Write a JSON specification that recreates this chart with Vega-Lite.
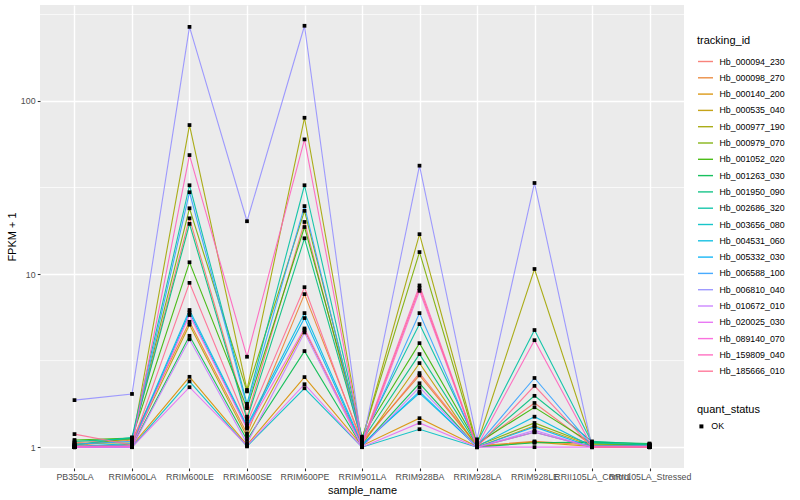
{
  "$schema": "https://vega.github.io/schema/vega-lite/v6.json",
  "width": 644,
  "height": 463,
  "autosize": {"type": "none"},
  "padding": {"left": 40, "top": 5, "right": 116, "bottom": 32},
  "background": "#FFFFFF",
  "datasets": {
    "minor": [{"m": 3.1623}, {"m": 31.623}, {"m": 316.23}],
    "expr": [
{"id":"Hb_000094_230","sample":"PB350LA","fpkm":1.06,"status":"OK"},
{"id":"Hb_000094_230","sample":"RRIM600LA","fpkm":1.11,"status":"OK"},
{"id":"Hb_000094_230","sample":"RRIM600LE","fpkm":21,"status":"OK"},
{"id":"Hb_000094_230","sample":"RRIM600SE","fpkm":1.5,"status":"OK"},
{"id":"Hb_000094_230","sample":"RRIM600PE","fpkm":20,"status":"OK"},
{"id":"Hb_000094_230","sample":"RRIM901LA","fpkm":1.05,"status":"OK"},
{"id":"Hb_000094_230","sample":"RRIM928BA","fpkm":2.68,"status":"OK"},
{"id":"Hb_000094_230","sample":"RRIM928LA","fpkm":1.03,"status":"OK"},
{"id":"Hb_000094_230","sample":"RRIM928LE","fpkm":1.8,"status":"OK"},
{"id":"Hb_000094_230","sample":"RRII105LA_Control","fpkm":1.02,"status":"OK"},
{"id":"Hb_000094_230","sample":"RRII105LA_Stressed","fpkm":1.01,"status":"OK"},
{"id":"Hb_000098_270","sample":"PB350LA","fpkm":1.02,"status":"OK"},
{"id":"Hb_000098_270","sample":"RRIM600LA","fpkm":1.1,"status":"OK"},
{"id":"Hb_000098_270","sample":"RRIM600LE","fpkm":5.3,"status":"OK"},
{"id":"Hb_000098_270","sample":"RRIM600SE","fpkm":1.2,"status":"OK"},
{"id":"Hb_000098_270","sample":"RRIM600PE","fpkm":7.66,"status":"OK"},
{"id":"Hb_000098_270","sample":"RRIM901LA","fpkm":1.08,"status":"OK"},
{"id":"Hb_000098_270","sample":"RRIM928BA","fpkm":2.6,"status":"OK"},
{"id":"Hb_000098_270","sample":"RRIM928LA","fpkm":1.02,"status":"OK"},
{"id":"Hb_000098_270","sample":"RRIM928LE","fpkm":1.08,"status":"OK"},
{"id":"Hb_000098_270","sample":"RRII105LA_Control","fpkm":1.03,"status":"OK"},
{"id":"Hb_000098_270","sample":"RRII105LA_Stressed","fpkm":1.02,"status":"OK"},
{"id":"Hb_000140_200","sample":"PB350LA","fpkm":1.01,"status":"OK"},
{"id":"Hb_000140_200","sample":"RRIM600LA","fpkm":1.02,"status":"OK"},
{"id":"Hb_000140_200","sample":"RRIM600LE","fpkm":2.55,"status":"OK"},
{"id":"Hb_000140_200","sample":"RRIM600SE","fpkm":1.03,"status":"OK"},
{"id":"Hb_000140_200","sample":"RRIM600PE","fpkm":2.54,"status":"OK"},
{"id":"Hb_000140_200","sample":"RRIM901LA","fpkm":1.02,"status":"OK"},
{"id":"Hb_000140_200","sample":"RRIM928BA","fpkm":1.47,"status":"OK"},
{"id":"Hb_000140_200","sample":"RRIM928LA","fpkm":1.01,"status":"OK"},
{"id":"Hb_000140_200","sample":"RRIM928LE","fpkm":1.07,"status":"OK"},
{"id":"Hb_000140_200","sample":"RRII105LA_Control","fpkm":1.01,"status":"OK"},
{"id":"Hb_000140_200","sample":"RRII105LA_Stressed","fpkm":1.0,"status":"OK"},
{"id":"Hb_000535_040","sample":"PB350LA","fpkm":1.0,"status":"OK"},
{"id":"Hb_000535_040","sample":"RRIM600LA","fpkm":1.04,"status":"OK"},
{"id":"Hb_000535_040","sample":"RRIM600LE","fpkm":5.1,"status":"OK"},
{"id":"Hb_000535_040","sample":"RRIM600SE","fpkm":1.15,"status":"OK"},
{"id":"Hb_000535_040","sample":"RRIM600PE","fpkm":4.75,"status":"OK"},
{"id":"Hb_000535_040","sample":"RRIM901LA","fpkm":1.03,"status":"OK"},
{"id":"Hb_000535_040","sample":"RRIM928BA","fpkm":3.06,"status":"OK"},
{"id":"Hb_000535_040","sample":"RRIM928LA","fpkm":1.0,"status":"OK"},
{"id":"Hb_000535_040","sample":"RRIM928LE","fpkm":1.33,"status":"OK"},
{"id":"Hb_000535_040","sample":"RRII105LA_Control","fpkm":1.02,"status":"OK"},
{"id":"Hb_000535_040","sample":"RRII105LA_Stressed","fpkm":1.03,"status":"OK"},
{"id":"Hb_000977_190","sample":"PB350LA","fpkm":1.05,"status":"OK"},
{"id":"Hb_000977_190","sample":"RRIM600LA","fpkm":1.06,"status":"OK"},
{"id":"Hb_000977_190","sample":"RRIM600LE","fpkm":72.6,"status":"OK"},
{"id":"Hb_000977_190","sample":"RRIM600SE","fpkm":2.14,"status":"OK"},
{"id":"Hb_000977_190","sample":"RRIM600PE","fpkm":80,"status":"OK"},
{"id":"Hb_000977_190","sample":"RRIM901LA","fpkm":1.1,"status":"OK"},
{"id":"Hb_000977_190","sample":"RRIM928BA","fpkm":17,"status":"OK"},
{"id":"Hb_000977_190","sample":"RRIM928LA","fpkm":1.04,"status":"OK"},
{"id":"Hb_000977_190","sample":"RRIM928LE","fpkm":10.7,"status":"OK"},
{"id":"Hb_000977_190","sample":"RRII105LA_Control","fpkm":1.04,"status":"OK"},
{"id":"Hb_000977_190","sample":"RRII105LA_Stressed","fpkm":1.04,"status":"OK"},
{"id":"Hb_000979_070","sample":"PB350LA","fpkm":1.03,"status":"OK"},
{"id":"Hb_000979_070","sample":"RRIM600LA","fpkm":1.12,"status":"OK"},
{"id":"Hb_000979_070","sample":"RRIM600LE","fpkm":24,"status":"OK"},
{"id":"Hb_000979_070","sample":"RRIM600SE","fpkm":2.1,"status":"OK"},
{"id":"Hb_000979_070","sample":"RRIM600PE","fpkm":23.2,"status":"OK"},
{"id":"Hb_000979_070","sample":"RRIM901LA","fpkm":1.12,"status":"OK"},
{"id":"Hb_000979_070","sample":"RRIM928BA","fpkm":13.4,"status":"OK"},
{"id":"Hb_000979_070","sample":"RRIM928LA","fpkm":1.02,"status":"OK"},
{"id":"Hb_000979_070","sample":"RRIM928LE","fpkm":1.38,"status":"OK"},
{"id":"Hb_000979_070","sample":"RRII105LA_Control","fpkm":1.03,"status":"OK"},
{"id":"Hb_000979_070","sample":"RRII105LA_Stressed","fpkm":1.02,"status":"OK"},
{"id":"Hb_001052_020","sample":"PB350LA","fpkm":1.1,"status":"OK"},
{"id":"Hb_001052_020","sample":"RRIM600LA","fpkm":1.13,"status":"OK"},
{"id":"Hb_001052_020","sample":"RRIM600LE","fpkm":11.7,"status":"OK"},
{"id":"Hb_001052_020","sample":"RRIM600SE","fpkm":1.68,"status":"OK"},
{"id":"Hb_001052_020","sample":"RRIM600PE","fpkm":18.7,"status":"OK"},
{"id":"Hb_001052_020","sample":"RRIM901LA","fpkm":1.15,"status":"OK"},
{"id":"Hb_001052_020","sample":"RRIM928BA","fpkm":3.99,"status":"OK"},
{"id":"Hb_001052_020","sample":"RRIM928LA","fpkm":1.05,"status":"OK"},
{"id":"Hb_001052_020","sample":"RRIM928LE","fpkm":1.7,"status":"OK"},
{"id":"Hb_001052_020","sample":"RRII105LA_Control","fpkm":1.05,"status":"OK"},
{"id":"Hb_001052_020","sample":"RRII105LA_Stressed","fpkm":1.03,"status":"OK"},
{"id":"Hb_001263_030","sample":"PB350LA","fpkm":1.0,"status":"OK"},
{"id":"Hb_001263_030","sample":"RRIM600LA","fpkm":1.01,"status":"OK"},
{"id":"Hb_001263_030","sample":"RRIM600LE","fpkm":4.4,"status":"OK"},
{"id":"Hb_001263_030","sample":"RRIM600SE","fpkm":1.1,"status":"OK"},
{"id":"Hb_001263_030","sample":"RRIM600PE","fpkm":3.59,"status":"OK"},
{"id":"Hb_001263_030","sample":"RRIM901LA","fpkm":1.01,"status":"OK"},
{"id":"Hb_001263_030","sample":"RRIM928BA","fpkm":2.34,"status":"OK"},
{"id":"Hb_001263_030","sample":"RRIM928LA","fpkm":1.0,"status":"OK"},
{"id":"Hb_001263_030","sample":"RRIM928LE","fpkm":1.06,"status":"OK"},
{"id":"Hb_001263_030","sample":"RRII105LA_Control","fpkm":1.07,"status":"OK"},
{"id":"Hb_001263_030","sample":"RRII105LA_Stressed","fpkm":1.05,"status":"OK"},
{"id":"Hb_001950_090","sample":"PB350LA","fpkm":1.08,"status":"OK"},
{"id":"Hb_001950_090","sample":"RRIM600LA","fpkm":1.12,"status":"OK"},
{"id":"Hb_001950_090","sample":"RRIM600LE","fpkm":19.5,"status":"OK"},
{"id":"Hb_001950_090","sample":"RRIM600SE","fpkm":1.45,"status":"OK"},
{"id":"Hb_001950_090","sample":"RRIM600PE","fpkm":16.1,"status":"OK"},
{"id":"Hb_001950_090","sample":"RRIM901LA","fpkm":1.09,"status":"OK"},
{"id":"Hb_001950_090","sample":"RRIM928BA","fpkm":3.45,"status":"OK"},
{"id":"Hb_001950_090","sample":"RRIM928LA","fpkm":1.03,"status":"OK"},
{"id":"Hb_001950_090","sample":"RRIM928LE","fpkm":1.98,"status":"OK"},
{"id":"Hb_001950_090","sample":"RRII105LA_Control","fpkm":1.08,"status":"OK"},
{"id":"Hb_001950_090","sample":"RRII105LA_Stressed","fpkm":1.04,"status":"OK"},
{"id":"Hb_002686_320","sample":"PB350LA","fpkm":1.03,"status":"OK"},
{"id":"Hb_002686_320","sample":"RRIM600LA","fpkm":1.14,"status":"OK"},
{"id":"Hb_002686_320","sample":"RRIM600LE","fpkm":32.6,"status":"OK"},
{"id":"Hb_002686_320","sample":"RRIM600SE","fpkm":1.78,"status":"OK"},
{"id":"Hb_002686_320","sample":"RRIM600PE","fpkm":32.6,"status":"OK"},
{"id":"Hb_002686_320","sample":"RRIM901LA","fpkm":1.13,"status":"OK"},
{"id":"Hb_002686_320","sample":"RRIM928BA","fpkm":5.14,"status":"OK"},
{"id":"Hb_002686_320","sample":"RRIM928LA","fpkm":1.06,"status":"OK"},
{"id":"Hb_002686_320","sample":"RRIM928LE","fpkm":4.75,"status":"OK"},
{"id":"Hb_002686_320","sample":"RRII105LA_Control","fpkm":1.06,"status":"OK"},
{"id":"Hb_002686_320","sample":"RRII105LA_Stressed","fpkm":1.03,"status":"OK"},
{"id":"Hb_003656_080","sample":"PB350LA","fpkm":1.0,"status":"OK"},
{"id":"Hb_003656_080","sample":"RRIM600LA","fpkm":1.0,"status":"OK"},
{"id":"Hb_003656_080","sample":"RRIM600LE","fpkm":2.4,"status":"OK"},
{"id":"Hb_003656_080","sample":"RRIM600SE","fpkm":1.01,"status":"OK"},
{"id":"Hb_003656_080","sample":"RRIM600PE","fpkm":2.19,"status":"OK"},
{"id":"Hb_003656_080","sample":"RRIM901LA","fpkm":1.0,"status":"OK"},
{"id":"Hb_003656_080","sample":"RRIM928BA","fpkm":1.27,"status":"OK"},
{"id":"Hb_003656_080","sample":"RRIM928LA","fpkm":1.0,"status":"OK"},
{"id":"Hb_003656_080","sample":"RRIM928LE","fpkm":1.22,"status":"OK"},
{"id":"Hb_003656_080","sample":"RRII105LA_Control","fpkm":1.0,"status":"OK"},
{"id":"Hb_003656_080","sample":"RRII105LA_Stressed","fpkm":1.0,"status":"OK"},
{"id":"Hb_004531_060","sample":"PB350LA","fpkm":1.01,"status":"OK"},
{"id":"Hb_004531_060","sample":"RRIM600LA","fpkm":1.05,"status":"OK"},
{"id":"Hb_004531_060","sample":"RRIM600LE","fpkm":6.2,"status":"OK"},
{"id":"Hb_004531_060","sample":"RRIM600SE","fpkm":1.33,"status":"OK"},
{"id":"Hb_004531_060","sample":"RRIM600PE","fpkm":5.95,"status":"OK"},
{"id":"Hb_004531_060","sample":"RRIM901LA","fpkm":1.04,"status":"OK"},
{"id":"Hb_004531_060","sample":"RRIM928BA","fpkm":2.05,"status":"OK"},
{"id":"Hb_004531_060","sample":"RRIM928LA","fpkm":1.01,"status":"OK"},
{"id":"Hb_004531_060","sample":"RRIM928LE","fpkm":1.5,"status":"OK"},
{"id":"Hb_004531_060","sample":"RRII105LA_Control","fpkm":1.01,"status":"OK"},
{"id":"Hb_004531_060","sample":"RRII105LA_Stressed","fpkm":1.01,"status":"OK"},
{"id":"Hb_005332_030","sample":"PB350LA","fpkm":1.0,"status":"OK"},
{"id":"Hb_005332_030","sample":"RRIM600LA","fpkm":1.03,"status":"OK"},
{"id":"Hb_005332_030","sample":"RRIM600LE","fpkm":6.0,"status":"OK"},
{"id":"Hb_005332_030","sample":"RRIM600SE","fpkm":1.3,"status":"OK"},
{"id":"Hb_005332_030","sample":"RRIM600PE","fpkm":5.57,"status":"OK"},
{"id":"Hb_005332_030","sample":"RRIM901LA","fpkm":1.02,"status":"OK"},
{"id":"Hb_005332_030","sample":"RRIM928BA","fpkm":2.1,"status":"OK"},
{"id":"Hb_005332_030","sample":"RRIM928LA","fpkm":1.0,"status":"OK"},
{"id":"Hb_005332_030","sample":"RRIM928LE","fpkm":1.31,"status":"OK"},
{"id":"Hb_005332_030","sample":"RRII105LA_Control","fpkm":1.0,"status":"OK"},
{"id":"Hb_005332_030","sample":"RRII105LA_Stressed","fpkm":1.0,"status":"OK"},
{"id":"Hb_006588_100","sample":"PB350LA","fpkm":1.04,"status":"OK"},
{"id":"Hb_006588_100","sample":"RRIM600LA","fpkm":1.08,"status":"OK"},
{"id":"Hb_006588_100","sample":"RRIM600LE","fpkm":29.7,"status":"OK"},
{"id":"Hb_006588_100","sample":"RRIM600SE","fpkm":1.72,"status":"OK"},
{"id":"Hb_006588_100","sample":"RRIM600PE","fpkm":24.7,"status":"OK"},
{"id":"Hb_006588_100","sample":"RRIM901LA","fpkm":1.07,"status":"OK"},
{"id":"Hb_006588_100","sample":"RRIM928BA","fpkm":5.95,"status":"OK"},
{"id":"Hb_006588_100","sample":"RRIM928LA","fpkm":1.02,"status":"OK"},
{"id":"Hb_006588_100","sample":"RRIM928LE","fpkm":2.51,"status":"OK"},
{"id":"Hb_006588_100","sample":"RRII105LA_Control","fpkm":1.02,"status":"OK"},
{"id":"Hb_006588_100","sample":"RRII105LA_Stressed","fpkm":1.02,"status":"OK"},
{"id":"Hb_006810_040","sample":"PB350LA","fpkm":1.87,"status":"OK"},
{"id":"Hb_006810_040","sample":"RRIM600LA","fpkm":2.03,"status":"OK"},
{"id":"Hb_006810_040","sample":"RRIM600LE","fpkm":268,"status":"OK"},
{"id":"Hb_006810_040","sample":"RRIM600SE","fpkm":20.2,"status":"OK"},
{"id":"Hb_006810_040","sample":"RRIM600PE","fpkm":272,"status":"OK"},
{"id":"Hb_006810_040","sample":"RRIM901LA","fpkm":1.02,"status":"OK"},
{"id":"Hb_006810_040","sample":"RRIM928BA","fpkm":42.3,"status":"OK"},
{"id":"Hb_006810_040","sample":"RRIM928LA","fpkm":1.11,"status":"OK"},
{"id":"Hb_006810_040","sample":"RRIM928LE","fpkm":33.6,"status":"OK"},
{"id":"Hb_006810_040","sample":"RRII105LA_Control","fpkm":1.0,"status":"OK"},
{"id":"Hb_006810_040","sample":"RRII105LA_Stressed","fpkm":1.0,"status":"OK"},
{"id":"Hb_010672_010","sample":"PB350LA","fpkm":1.0,"status":"OK"},
{"id":"Hb_010672_010","sample":"RRIM600LA","fpkm":1.0,"status":"OK"},
{"id":"Hb_010672_010","sample":"RRIM600LE","fpkm":4.2,"status":"OK"},
{"id":"Hb_010672_010","sample":"RRIM600SE","fpkm":1.05,"status":"OK"},
{"id":"Hb_010672_010","sample":"RRIM600PE","fpkm":4.6,"status":"OK"},
{"id":"Hb_010672_010","sample":"RRIM901LA","fpkm":1.0,"status":"OK"},
{"id":"Hb_010672_010","sample":"RRIM928BA","fpkm":2.22,"status":"OK"},
{"id":"Hb_010672_010","sample":"RRIM928LA","fpkm":1.0,"status":"OK"},
{"id":"Hb_010672_010","sample":"RRIM928LE","fpkm":1.25,"status":"OK"},
{"id":"Hb_010672_010","sample":"RRII105LA_Control","fpkm":1.0,"status":"OK"},
{"id":"Hb_010672_010","sample":"RRII105LA_Stressed","fpkm":1.0,"status":"OK"},
{"id":"Hb_020025_030","sample":"PB350LA","fpkm":1.0,"status":"OK"},
{"id":"Hb_020025_030","sample":"RRIM600LA","fpkm":1.0,"status":"OK"},
{"id":"Hb_020025_030","sample":"RRIM600LE","fpkm":2.22,"status":"OK"},
{"id":"Hb_020025_030","sample":"RRIM600SE","fpkm":1.02,"status":"OK"},
{"id":"Hb_020025_030","sample":"RRIM600PE","fpkm":2.31,"status":"OK"},
{"id":"Hb_020025_030","sample":"RRIM901LA","fpkm":1.0,"status":"OK"},
{"id":"Hb_020025_030","sample":"RRIM928BA","fpkm":1.38,"status":"OK"},
{"id":"Hb_020025_030","sample":"RRIM928LA","fpkm":1.0,"status":"OK"},
{"id":"Hb_020025_030","sample":"RRIM928LE","fpkm":1.0,"status":"OK"},
{"id":"Hb_020025_030","sample":"RRII105LA_Control","fpkm":1.0,"status":"OK"},
{"id":"Hb_020025_030","sample":"RRII105LA_Stressed","fpkm":1.0,"status":"OK"},
{"id":"Hb_089140_070","sample":"PB350LA","fpkm":1.0,"status":"OK"},
{"id":"Hb_089140_070","sample":"RRIM600LA","fpkm":1.01,"status":"OK"},
{"id":"Hb_089140_070","sample":"RRIM600LE","fpkm":5.8,"status":"OK"},
{"id":"Hb_089140_070","sample":"RRIM600SE","fpkm":1.28,"status":"OK"},
{"id":"Hb_089140_070","sample":"RRIM600PE","fpkm":4.85,"status":"OK"},
{"id":"Hb_089140_070","sample":"RRIM901LA","fpkm":1.01,"status":"OK"},
{"id":"Hb_089140_070","sample":"RRIM928BA","fpkm":8.0,"status":"OK"},
{"id":"Hb_089140_070","sample":"RRIM928LA","fpkm":1.0,"status":"OK"},
{"id":"Hb_089140_070","sample":"RRIM928LE","fpkm":1.22,"status":"OK"},
{"id":"Hb_089140_070","sample":"RRII105LA_Control","fpkm":1.0,"status":"OK"},
{"id":"Hb_089140_070","sample":"RRII105LA_Stressed","fpkm":1.0,"status":"OK"},
{"id":"Hb_159809_040","sample":"PB350LA","fpkm":1.01,"status":"OK"},
{"id":"Hb_159809_040","sample":"RRIM600LA","fpkm":1.02,"status":"OK"},
{"id":"Hb_159809_040","sample":"RRIM600LE","fpkm":48.7,"status":"OK"},
{"id":"Hb_159809_040","sample":"RRIM600SE","fpkm":3.33,"status":"OK"},
{"id":"Hb_159809_040","sample":"RRIM600PE","fpkm":60,"status":"OK"},
{"id":"Hb_159809_040","sample":"RRIM901LA","fpkm":1.06,"status":"OK"},
{"id":"Hb_159809_040","sample":"RRIM928BA","fpkm":8.6,"status":"OK"},
{"id":"Hb_159809_040","sample":"RRIM928LA","fpkm":1.01,"status":"OK"},
{"id":"Hb_159809_040","sample":"RRIM928LE","fpkm":4.15,"status":"OK"},
{"id":"Hb_159809_040","sample":"RRII105LA_Control","fpkm":1.01,"status":"OK"},
{"id":"Hb_159809_040","sample":"RRII105LA_Stressed","fpkm":1.01,"status":"OK"},
{"id":"Hb_185666_010","sample":"PB350LA","fpkm":1.19,"status":"OK"},
{"id":"Hb_185666_010","sample":"RRIM600LA","fpkm":1.03,"status":"OK"},
{"id":"Hb_185666_010","sample":"RRIM600LE","fpkm":8.9,"status":"OK"},
{"id":"Hb_185666_010","sample":"RRIM600SE","fpkm":1.38,"status":"OK"},
{"id":"Hb_185666_010","sample":"RRIM600PE","fpkm":8.4,"status":"OK"},
{"id":"Hb_185666_010","sample":"RRIM901LA","fpkm":1.04,"status":"OK"},
{"id":"Hb_185666_010","sample":"RRIM928BA","fpkm":8.3,"status":"OK"},
{"id":"Hb_185666_010","sample":"RRIM928LA","fpkm":1.0,"status":"OK"},
{"id":"Hb_185666_010","sample":"RRIM928LE","fpkm":2.26,"status":"OK"},
{"id":"Hb_185666_010","sample":"RRII105LA_Control","fpkm":1.0,"status":"OK"},
{"id":"Hb_185666_010","sample":"RRII105LA_Stressed","fpkm":1.0,"status":"OK"}
    ]
  },
  "layer": [
    {
      "data": {"name": "minor"},
      "mark": {"type": "rule", "color": "#FFFFFF", "strokeWidth": 0.7},
      "encoding": {
        "y": {"field": "m", "type": "quantitative", "title": "FPKM + 1",
              "scale": {"type": "log", "domain": [0.758, 358.6], "nice": false, "zero": false},
              "axis": {"values": [1, 10, 100], "format": "d", "grid": true}}
      }
    },
    {
      "data": {"name": "expr"},
      "mark": {"type": "line", "strokeWidth": 1.1, "opacity": 0.9},
      "encoding": {
        "x": {"field": "sample", "type": "nominal", "title": "sample_name",
              "sort": ["PB350LA","RRIM600LA","RRIM600LE","RRIM600SE","RRIM600PE","RRIM901LA","RRIM928BA","RRIM928LA","RRIM928LE","RRII105LA_Control","RRII105LA_Stressed"],
              "scale": {"type": "point", "padding": 0.6},
              "axis": {"labelAngle": 0, "grid": true, "labelOverlap": false, "labelLimit": 0}},
        "y": {"field": "fpkm", "type": "quantitative", "title": "FPKM + 1",
              "scale": {"type": "log", "domain": [0.758, 358.6], "nice": false, "zero": false},
              "axis": {"values": [1, 10, 100], "format": "d", "grid": true}},
        "color": {"field": "id", "type": "nominal", "title": "tracking_id",
                  "scale": {"range": ["#F8766D","#EA8331","#D89000","#C09B00","#A3A500","#7CAE00","#39B600","#00BB4E","#00BF7D","#00C1A3","#00BFC4","#00BAE0","#00B0F6","#35A2FF","#9590FF","#C77CFF","#E76BF3","#FA62DB","#FF62BC","#FF6C91"]},
                  "legend": {"orient": "none", "legendX": 657, "legendY": 30, "symbolType": "stroke", "symbolSize": 225, "symbolStrokeWidth": 1.4, "rowPadding": 2.3}}
      }
    },
    {
      "data": {"name": "expr"},
      "mark": {"type": "point", "filled": true, "size": 14, "opacity": 1, "color": "#000000"},
      "encoding": {
        "x": {"field": "sample", "type": "nominal",
              "sort": ["PB350LA","RRIM600LA","RRIM600LE","RRIM600SE","RRIM600PE","RRIM901LA","RRIM928BA","RRIM928LA","RRIM928LE","RRII105LA_Control","RRII105LA_Stressed"]},
        "y": {"field": "fpkm", "type": "quantitative"},
        "shape": {"field": "status", "type": "nominal", "title": "quant_status",
                  "scale": {"range": ["square"]},
                  "legend": {"orient": "none", "legendX": 657, "legendY": 399, "symbolSize": 16, "symbolFillColor": "#000000", "symbolStrokeColor": "#000000"}}
      }
    }
  ],
  "config": {
    "font": "Liberation Sans",
    "view": {"fill": "#EBEBEB", "stroke": null},
    "axis": {
      "domain": false,
      "gridColor": "#FFFFFF",
      "gridWidth": 1.4,
      "tickColor": "#333333",
      "tickSize": 2.74,
      "tickWidth": 1.07,
      "labelColor": "#4D4D4D",
      "labelFontSize": 8.8,
      "labelPadding": 2.2,
      "titleFontSize": 11,
      "titleFontWeight": "normal",
      "titleColor": "#000000",
      "titlePadding": 3
    },
    "legend": {
      "titleFontSize": 11,
      "titleFontWeight": "normal",
      "titleColor": "#000000",
      "titlePadding": 7,
      "labelFontSize": 8.8,
      "labelColor": "#000000",
      "labelOffset": 5.5
    }
  }
}
